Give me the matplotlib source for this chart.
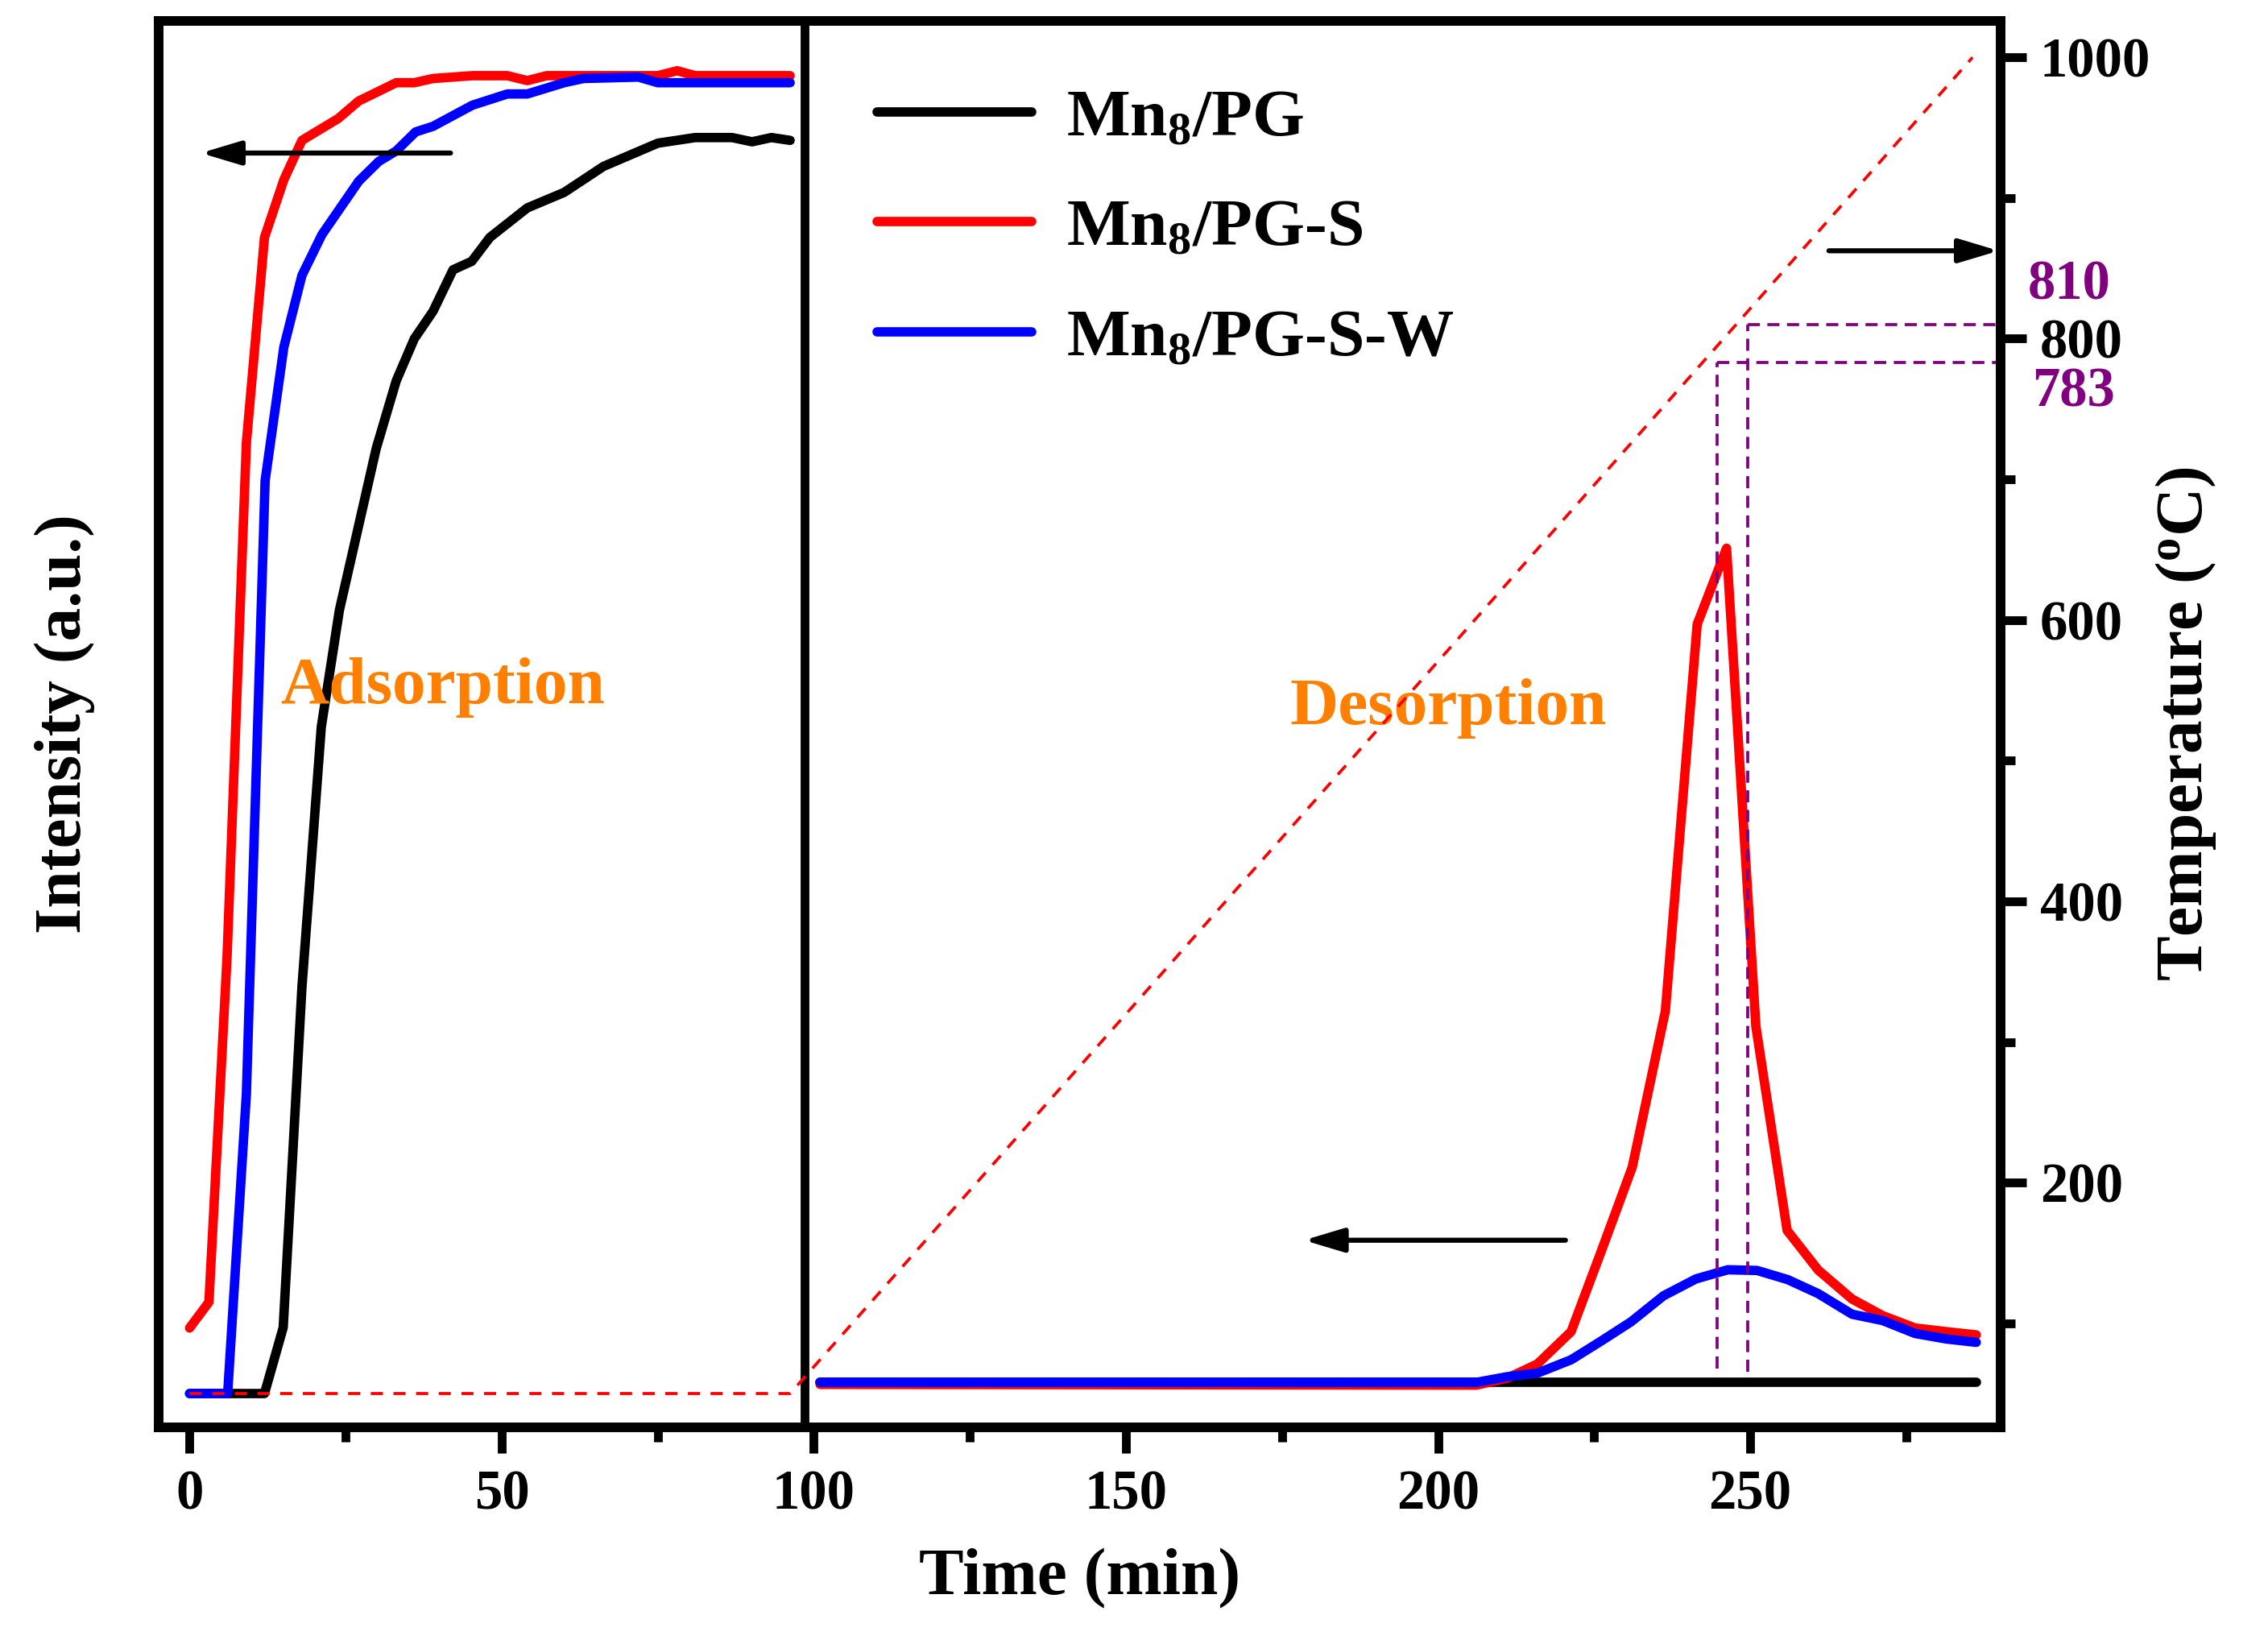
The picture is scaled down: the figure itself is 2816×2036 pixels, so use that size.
import numpy as np
import matplotlib
matplotlib.use('Agg')
import matplotlib.pyplot as plt
from matplotlib.ticker import MultipleLocator

plt.rcParams['font.family'] = ['Liberation Serif', 'DejaVu Serif']
plt.rcParams['font.weight'] = 'bold'
plt.rcParams['axes.labelweight'] = 'bold'
plt.rcParams['mathtext.fontset'] = 'custom'
plt.rcParams['mathtext.rm'] = 'Liberation Serif:bold'
plt.rcParams['mathtext.bf'] = 'Liberation Serif:bold'
plt.rcParams['mathtext.it'] = 'Liberation Serif:bold:italic'
plt.rcParams['mathtext.default'] = 'rm'

# adsorption part (intensity, a.u.)
t_ads_pg = [0, 12.0, 15.0, 18.0, 21.1, 24.0, 29.9, 33.1, 36.0, 39.0, 42.2, 45.2, 48.1,
            54.1, 60.0, 66.3, 75.0, 81.0, 86.9, 90.1, 93.2, 96.2]
i_ads_pg = [2.4, 2.4, 7.1, 31.3, 49.8, 58.1, 69.6, 74.4, 77.4, 79.35, 82.3, 82.9, 84.6,
            86.7, 87.8, 89.65, 91.3, 91.7, 91.7, 91.4, 91.7, 91.5]

t_ads_s = [0, 3.1, 6.0, 9.1, 12.0, 15.1, 18.0, 23.8, 27.1, 33.1, 36.0, 39.0, 45.3, 50.9,
           54.1, 57.2, 75.0, 78.1, 81.0, 96.2]
i_ads_s = [7.06, 8.9, 33.4, 70.0, 84.6, 88.7, 91.5, 93.05, 94.3, 95.6, 95.6, 95.9, 96.1, 96.1,
           95.75, 96.1, 96.1, 96.45, 96.1, 96.1]

t_ads_sw = [0, 6.1, 9.1, 12.1, 15.1, 18.0, 21.2, 27.1, 30.3, 33.1, 36.2, 39.0, 45.3, 50.9,
            54.1, 60.0, 63.1, 71.9, 75.0, 96.2]
i_ads_sw = [2.4, 2.4, 23.7, 67.3, 76.8, 81.9, 84.8, 88.6, 90.0, 90.75, 92.1, 92.5, 94.0, 94.8,
            94.8, 95.6, 95.9, 96.0, 95.6, 95.6]

# desorption part
t_des_pg = [101, 286.2]
i_des_pg = [3.2, 3.2]

t_des_s = [101, 206.2, 211.1, 215.9, 221.3, 226.2, 231.1, 236.4, 241.5, 246.2, 250.9, 255.9,
           260.9, 266.3, 271.2, 276.4, 281.4, 286.2]
i_des_s = [3.05, 3.0, 3.5, 4.5, 6.8, 12.6, 18.5, 29.6, 57.1, 62.5, 28.5, 14.0,
           11.17, 9.12, 7.94, 7.06, 6.8, 6.57]

t_des_sw = [101, 206.2, 211.1, 215.9, 221.3, 226.0, 230.9, 236.1, 241.3, 246.4, 251.1, 256.0,
            260.9, 266.3, 271.2, 276.4, 281.4, 286.2]
i_des_sw = [3.2, 3.2, 3.6, 3.85, 4.8, 6.1, 7.5, 9.35, 10.55, 11.2, 11.15, 10.5,
            9.5, 8.04, 7.59, 6.67, 6.28, 6.04]

# temperature program
t_temp = [0, 96.2, 285.6]
temp = [50, 50, 1000]

# peak temperatures
peak_t = [244.7, 249.6]
peak_T = [783, 810]
peak_bottom = [68, 65.5]

fig = plt.figure(figsize=(2816 / 300, 2036 / 300), dpi=300)
ax = fig.add_axes([0.0701, 0.1297, 0.8120, 0.8576])
ax2 = ax.twinx()

lw = 2.8
kw = dict(lw=lw, solid_capstyle='round', solid_joinstyle='round')
ax.plot(t_ads_pg, i_ads_pg, color='black', label='Mn$_8$/PG', **kw)
ax.plot(t_des_pg, i_des_pg, color='black', **kw)
ax.plot(t_ads_s, i_ads_s, color='#FF0000', label='Mn$_8$/PG-S', **kw)
ax.plot(t_des_s, i_des_s, color='#FF0000', **kw)
ax.plot(t_ads_sw, i_ads_sw, color='#0000FF', label='Mn$_8$/PG-S-W', **kw)
ax.plot(t_des_sw, i_des_sw, color='#0000FF', **kw)

ax.axvline(98.5, color='black', lw=2.6)

ax2.plot(t_temp, temp, color='#FF0000', lw=0.9, ls=(0, (4, 3.5)))
for x, T, b in zip(peak_t, peak_T, peak_bottom):
    ax2.plot([x, x], [b, T], color='#800080', lw=0.9, ls=(0, (4, 2.5)))
    ax2.plot([x, 290.1], [T, T], color='#800080', lw=0.9, ls=(0, (4, 2.5)))

ax2.text(294.5, 828, '810', color='#800080', fontsize=16.5, ha='left', va='baseline', clip_on=False)
ax2.text(295.2, 752, '783', color='#800080', fontsize=16.5, ha='left', va='baseline', clip_on=False)

arrow = dict(arrowstyle='-|>,head_length=0.5,head_width=0.15', lw=1.5, color='black',
             shrinkA=0, shrinkB=0, mutation_scale=20)
ax.annotate('', xy=(1.8, 90.6), xytext=(41.8, 90.6), arrowprops=arrow)
ax.annotate('', xy=(178.5, 13.3), xytext=(220.4, 13.3), arrowprops=arrow)
ax2.annotate('', xy=(289.8, 862.5), xytext=(262.6, 862.5), arrowprops=arrow)

ax.text(14.6, 51.5, 'Adsorption', color='#FF8000', fontsize=20, ha='left', va='baseline')
ax.text(176.2, 50.0, 'Desorption', color='#FF8000', fontsize=20, ha='left', va='baseline')

ax.set_xlim(-4.9, 290.1)
ax.set_ylim(0, 100)
ax2.set_ylim(26, 1026)

ax.xaxis.set_major_locator(MultipleLocator(50))
ax.xaxis.set_minor_locator(MultipleLocator(25))
ax.tick_params(axis='x', which='major', direction='out', length=7.7, width=2.6, labelsize=16.5, pad=5)
ax.tick_params(axis='x', which='minor', direction='out', length=4.3, width=2.6)
ax.tick_params(axis='y', which='both', left=False, right=False, labelleft=False)

ax2.yaxis.set_major_locator(MultipleLocator(200))
ax2.yaxis.set_minor_locator(MultipleLocator(100))
ax2.tick_params(axis='y', which='major', direction='out', length=7.7, width=2.6, labelsize=16.5, pad=4)
ax2.tick_params(axis='y', which='minor', direction='out', length=4.3, width=2.6)

for a in (ax, ax2):
    for s in a.spines.values():
        s.set_linewidth(2.8)

ax.set_xlabel('Time (min)', fontsize=20, labelpad=8)
ax.set_ylabel('Intensity (a.u.)', fontsize=20, labelpad=19)
ax2.set_ylabel('Temperature ($^{\\mathrm{o}}$C)', fontsize=20, labelpad=1)

ax.legend(loc='upper left', bbox_to_anchor=(0.39, 0.952), frameon=False, fontsize=20,
          handlelength=2.3, handletextpad=0.52, labelspacing=0.72, borderpad=0, borderaxespad=0)

fig.savefig('out.png', dpi=300)
